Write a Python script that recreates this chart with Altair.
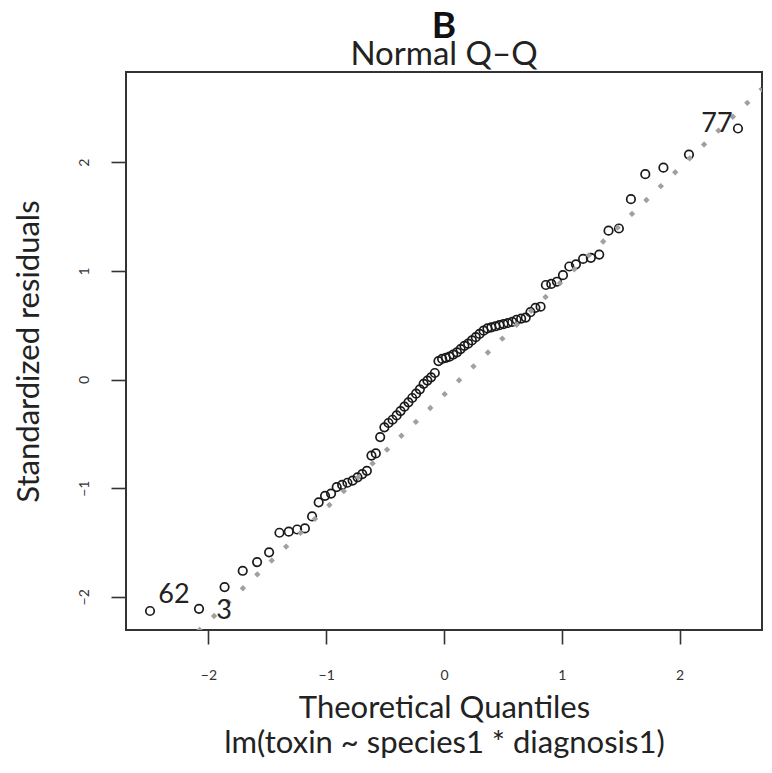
import altair as alt
import pandas as pd

# Theoretical normal quantiles (n = 80)
theoretical = [
    -2.496, -2.080, -1.863, -1.709, -1.587, -1.485, -1.397, -1.318, -1.247, -1.181,
    -1.120, -1.064, -1.010, -0.959, -0.911, -0.865, -0.820, -0.776, -0.734, -0.694,
    -0.655, -0.616, -0.579, -0.542, -0.506, -0.471, -0.437, -0.402, -0.369, -0.336,
    -0.302, -0.270, -0.237, -0.205, -0.173, -0.141, -0.110, -0.078, -0.047, -0.016,
    0.016, 0.047, 0.078, 0.110, 0.141, 0.173, 0.205, 0.237, 0.270, 0.302,
    0.336, 0.369, 0.402, 0.437, 0.471, 0.506, 0.542, 0.579, 0.616, 0.655,
    0.694, 0.734, 0.776, 0.820, 0.865, 0.911, 0.959, 1.010, 1.064, 1.120,
    1.181, 1.247, 1.318, 1.397, 1.485, 1.587, 1.709, 1.863, 2.080, 2.496,
]

# Sorted standardized residuals
residuals = [
    -2.13, -2.11, -1.91, -1.76, -1.68, -1.59, -1.41, -1.40, -1.38, -1.37,
    -1.26, -1.13, -1.07, -1.05, -0.99, -0.97, -0.95, -0.93, -0.90, -0.87,
    -0.84, -0.70, -0.68, -0.53, -0.44, -0.40, -0.37, -0.33, -0.29, -0.25,
    -0.21, -0.17, -0.13, -0.09, -0.04, -0.01, 0.02, 0.06, 0.17, 0.19,
    0.20, 0.21, 0.23, 0.25, 0.28, 0.31, 0.33, 0.36, 0.39, 0.42,
    0.45, 0.47, 0.48, 0.49, 0.50, 0.51, 0.52, 0.53, 0.55, 0.56,
    0.57, 0.62, 0.66, 0.67, 0.87, 0.88, 0.90, 0.96, 1.04, 1.06,
    1.11, 1.12, 1.15, 1.37, 1.39, 1.66, 1.89, 1.95, 2.07, 2.31,
]

# Labelled observations: position in sorted order -> observation id
label_positions = [0, 1, 79]
label_texts = ["62", "3", "77"]

# Reference line (qqline): intercept, slope
qq_intercept = -0.14
qq_slope = 1.043

x_domain = [-2.70, 2.70]
y_domain = [-2.305, 2.83]

labels = [""] * len(residuals)
for p, t in zip(label_positions, label_texts):
    labels[p] = t

df = pd.DataFrame({"tq": theoretical, "sr": residuals, "lab": labels})
df_line = pd.DataFrame({"tq": x_domain,
                        "sr": [qq_intercept + qq_slope * v for v in x_domain]})

FONT = "Lato"
TXT = "#222222"

x_scale = alt.Scale(domain=x_domain, nice=False, zero=False)
y_scale = alt.Scale(domain=y_domain, nice=False, zero=False)

x_axis = alt.Axis(
    values=[-2, -1, 0, 1, 2], format="d",
    title=["Theoretical Quantiles", "lm(toxin ~ species1 * diagnosis1)"],
    grid=False, domain=False, tickSize=14, tickWidth=1.6, tickColor="#333333",
    labelFont=FONT, labelFontSize=14, labelColor="#333333", labelPadding=24,
    titleFont=FONT, titleFontSize=31, titleFontWeight="normal", titleColor=TXT,
    titlePadding=11, titleLineHeight=35,
)
y_axis = alt.Axis(
    values=[-2, -1, 0, 1, 2], format="d", title="Standardized residuals",
    grid=False, domain=False, tickSize=15, tickWidth=1.6, tickColor="#333333",
    labelFont=FONT, labelFontSize=14, labelColor="#333333", labelPadding=20,
    labelAngle=270,
    titleFont=FONT, titleFontSize=31, titleFontWeight="normal", titleColor=TXT,
    titlePadding=32,
)

base = alt.Chart(df)

points = base.mark_point(
    shape="circle", filled=False, size=72, strokeWidth=1.7, color="#1a1a1a", opacity=1
).encode(
    x=alt.X("tq:Q", scale=x_scale, axis=x_axis),
    y=alt.Y("sr:Q", scale=y_scale, axis=y_axis),
)

line = alt.Chart(df_line).mark_line(
    color="#a0a0a0", strokeWidth=4.5, strokeDash=[4.5, 15.5], strokeCap="butt", clip=True
).encode(x=alt.X("tq:Q", scale=x_scale), y=alt.Y("sr:Q", scale=y_scale))

offsets = {"62": (24, -16), "3": (25, 2), "77": (-21, -5)}
texts = []
for t in label_texts:
    dx, dy = offsets[t]
    texts.append(
        base.transform_filter(alt.datum.lab == t).mark_text(
            font=FONT, fontSize=27, color=TXT, dx=dx, dy=dy, align="center", baseline="middle"
        ).encode(x=alt.X("tq:Q", scale=x_scale), y=alt.Y("sr:Q", scale=y_scale), text="lab:N")
    )

chart = alt.layer(points, line, *texts).properties(
    width=636, height=558,
    autosize=alt.AutoSizeParams(type="none"),
    padding={"left": 118, "right": 2, "top": 64, "bottom": 130},
    title=alt.TitleParams(
        text="B", subtitle="Normal Q–Q", anchor="middle",
        font=FONT, fontSize=37, fontWeight="bold", color="#111111",
        subtitleFont=FONT, subtitleFontSize=33, subtitleColor=TXT,
        subtitlePadding=-7, offset=-1,
    ),
).configure(background="white").configure_view(stroke="#333333", strokeWidth=2)

chart.save("out.html", embed_options={"renderer": "svg", "actions": False})
